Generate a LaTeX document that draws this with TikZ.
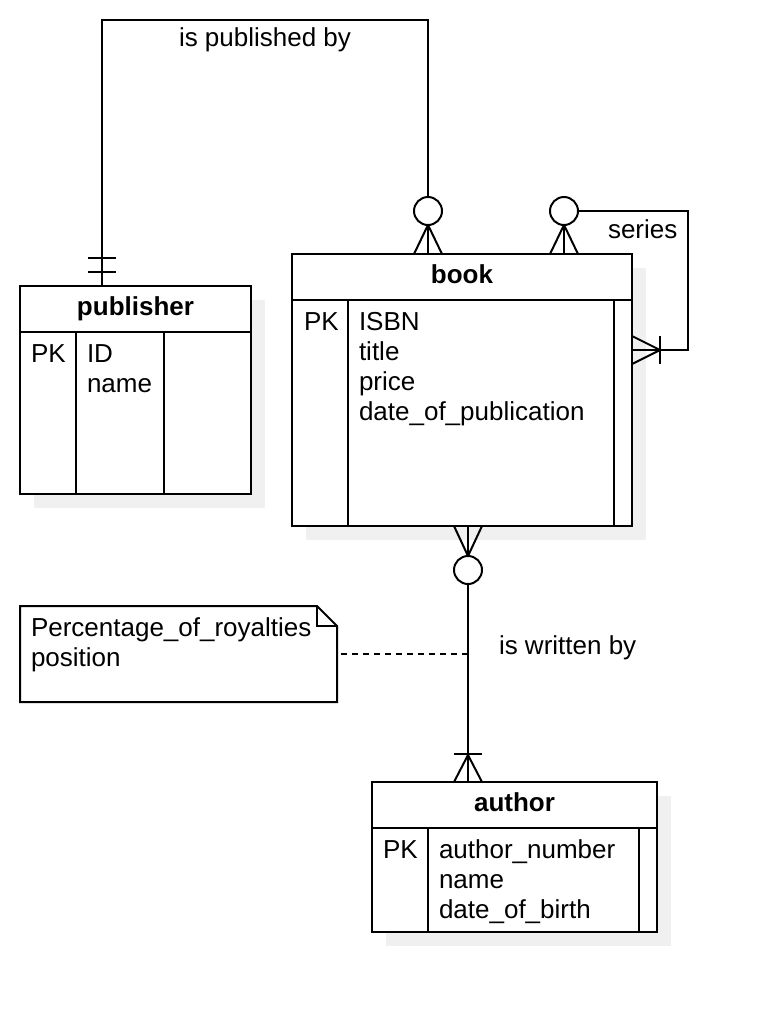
\documentclass[tikz,border=0pt]{standalone}
\usepackage{fontspec}
\setmainfont{Liberation Sans}
\usetikzlibrary{calc}
\definecolor{shadowgray}{HTML}{F0F0F0}
\begin{document}
\begin{tikzpicture}[x=1pt,y=-1pt,line width=2pt,
  ent/.style={draw=black, fill=white, rectangle, anchor=north west, inner sep=0pt, outer sep=0pt, line width=2pt},
  shadowbox/.style={fill=shadowgray, draw=none, rectangle, anchor=north west, inner sep=0pt, outer sep=0pt},
  txt/.style={anchor=base west, inner sep=0pt, font=\fontsize{26}{30}\selectfont},
  ttl/.style={anchor=base, inner sep=0pt, font=\fontsize{26}{30}\selectfont\bfseries},
  circ/.style={circle, draw=black, fill=white, minimum size=28pt, inner sep=0pt, outer sep=0pt, line width=2pt},
  notedash/.style={dash pattern=on 6pt off 5pt, line width=1.5pt},
]
\useasboundingbox (0,0) rectangle (770,1012);

% shadows
\node[shadowbox, minimum width=231pt, minimum height=208pt] (pubsh) at (34,300) {};
\node[shadowbox, minimum width=340pt, minimum height=272pt] (booksh) at (306,268) {};
\node[shadowbox, minimum width=285pt, minimum height=150pt] (authsh) at (386,796) {};

% entities
\node[ent, minimum width=231pt, minimum height=208pt] (pub) at (20,286) {};
\draw (20,332) -- (251,332);
\draw (76,332) -- (76,494);
\draw (164,332) -- (164,494);
\node[ttl] (pubt) at (135.5,315) {publisher};
\node[txt] (pubpk) at (30,362) {PK};
\node[txt] (pubf1) at (86,362) {ID};
\node[txt] (pubf2) at (86,392) {name};

\node[ent, minimum width=340pt, minimum height=272pt] (book) at (292,254) {};
\draw (292,300) -- (632,300);
\draw (348,300) -- (348,526);
\draw (614,300) -- (614,526);
\node[ttl] (bookt) at (462,283) {book};
\node[txt] (bookpk) at (303,330) {PK};
\node[txt] (bookf1) at (358,330) {ISBN};
\node[txt] (bookf2) at (358,360) {title};
\node[txt] (bookf3) at (358,390) {price};
\node[txt] (bookf4) at (358,420) {date\_of\_publication};

\node[ent, minimum width=285pt, minimum height=150pt] (auth) at (372,782) {};
\draw (372,828) -- (657,828);
\draw (428,828) -- (428,932);
\draw (639,828) -- (639,932);
\node[ttl] (autht) at (514.5,811) {author};
\node[txt] (authpk) at (382,858) {PK};
\node[txt] (authf1) at (438,858) {author\_number};
\node[txt] (authf2) at (438,888) {name};
\node[txt] (authf3) at (438,918) {date\_of\_birth};

% note
\node[rectangle, anchor=north west, inner sep=0pt, outer sep=0pt, minimum width=317pt, minimum height=96pt] (note) at (20,606) {};
\draw[fill=white] (note.north west) -- (317,606) -- (337,626) -- (note.south east) -- (note.south west) -- cycle;
\draw (317,606) -- (317,626) -- (337,626);
\node[txt] (notef1) at (30,636) {Percentage\_of\_royalties};
\node[txt] (notef2) at (30,666) {position};

% circles
\node[circ] (c1) at (428,211) {};
\node[circ] (c2) at (564,211) {};
\node[circ] (c3) at (468,570) {};

% is published by
\coordinate (pubA) at (102,286);
\draw (pubA) -- (102,20) -| (c1.north);
\draw (102,258) -- ++(-14,0) -- ++(28,0);
\draw (102,272) -- ++(-14,0) -- ++(28,0);
\draw (c1.south) -- (414,254);
\draw (c1.south) -- (428,254);
\draw (c1.south) -- (442,254);
\node[txt] (lpub) at (178,46) {is published by};

% series
\coordinate (bookR) at (632,350);
\draw (c2.east) -| (688,350) -- (bookR);
\draw (660,336) -- (660,364);
\draw (632,336) -- (660,350) -- (632,364);
\draw (c2.south) -- (550,254);
\draw (c2.south) -- (564,254);
\draw (c2.south) -- (578,254);
\node[txt] (lser) at (607,238) {series};

% is written by
\coordinate (authT) at (468,782);
\draw (c3.north) -- (454,526);
\draw (c3.north) -- (468,526);
\draw (c3.north) -- (482,526);
\draw (c3.south) -- (authT);
\draw (454,754) -- (482,754);
\draw (454,782) -- (468,755) -- (482,782);
\node[txt] (lwr) at (498,654) {is written by};

% note link
\coordinate (noteL) at (468,654);
\draw[notedash] (341,654) -- (noteL);

\end{tikzpicture}
\end{document}
